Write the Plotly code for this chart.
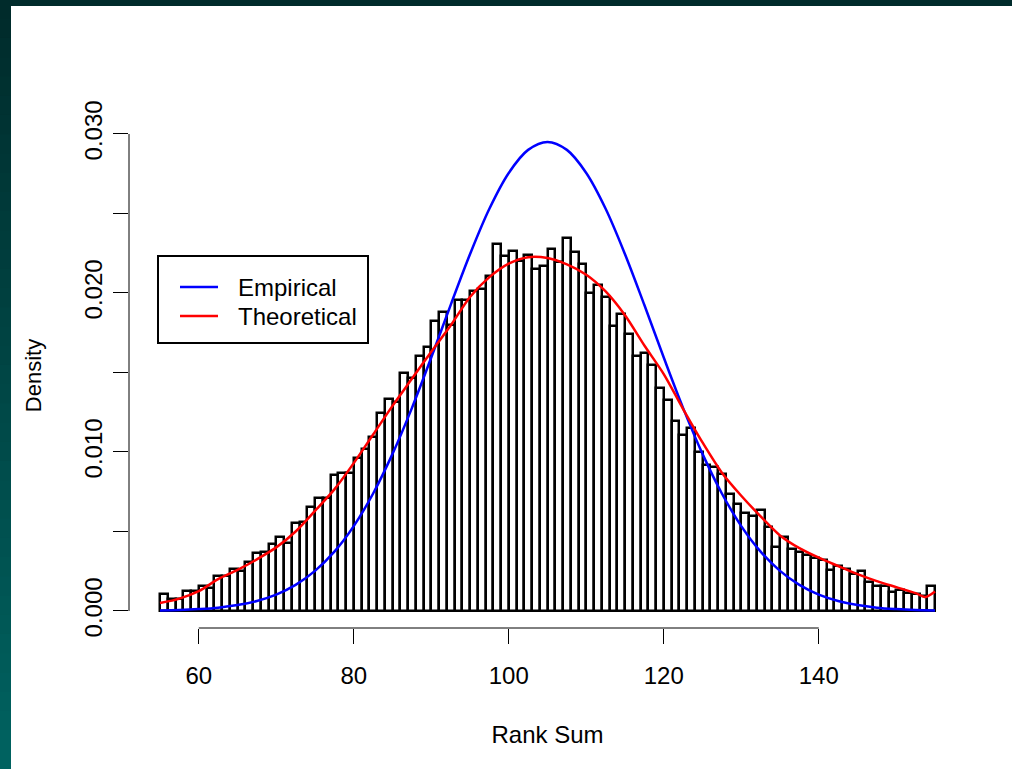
import plotly.graph_objects as go

# ---------------- data ----------------
bin_left = list(range(55, 155))          # histogram bins of width 1
density = [
    0.00110, 0.00075, 0.00075, 0.00126, 0.00126, 0.00157, 0.00143, 0.00220, 0.00220, 0.00262,
    0.00254, 0.00310, 0.00363, 0.00369, 0.00420, 0.00463, 0.00426, 0.00556, 0.00562, 0.00656,
    0.00709, 0.00709, 0.00855, 0.00870, 0.00870, 0.00960, 0.01017, 0.01096, 0.01247, 0.01331,
    0.01317, 0.01499, 0.01463, 0.01604, 0.01662, 0.01826, 0.01883, 0.01799, 0.01956, 0.01956,
    0.02010, 0.02025, 0.02105, 0.02310, 0.02232, 0.02261, 0.02198, 0.02238, 0.02148, 0.02167,
    0.02277, 0.02197, 0.02344, 0.02260, 0.02180, 0.02002, 0.02050, 0.01977, 0.01794, 0.01868,
    0.01744, 0.01604, 0.01625, 0.01547, 0.01401, 0.01327, 0.01197, 0.01107, 0.01149, 0.01002,
    0.00918, 0.00908, 0.00864, 0.00738, 0.00675, 0.00616, 0.00597, 0.00633, 0.00530, 0.00404,
    0.00463, 0.00391, 0.00370, 0.00352, 0.00332, 0.00321, 0.00258, 0.00283, 0.00263, 0.00234,
    0.00250, 0.00181, 0.00160, 0.00160, 0.00118, 0.00134, 0.00111, 0.00104, 0.00095, 0.00157,
]

emp_x = [55, 57.5, 60, 62.5, 65, 67.5, 70, 72.5, 75, 77.5, 80, 82.5, 85, 87.5, 90, 92.5, 95,
         97.5, 100, 102.5, 105, 107.5, 110, 112.5, 115, 117.5, 120, 122.5, 125, 127.5, 130,
         132.5, 135, 137.5, 140, 142.5, 145, 147.5, 150, 152.5, 155]
emp_y = [0.00003, 0.00006, 0.00012, 0.00021, 0.00037, 0.00063, 0.00103, 0.00164, 0.00252,
         0.00373, 0.00534, 0.00739, 0.00988, 0.01276, 0.01594, 0.01924, 0.02244, 0.02530,
         0.02755, 0.02900, 0.02950, 0.02900, 0.02755, 0.02530, 0.02244, 0.01924, 0.01594,
         0.01276, 0.00988, 0.00739, 0.00534, 0.00373, 0.00252, 0.00164, 0.00103, 0.00063,
         0.00037, 0.00021, 0.00012, 0.00006, 0.00003]

theo_x = [55, 57.5, 60, 62.5, 65, 67.5, 70, 72.5, 75, 77.5, 80, 82.5, 85, 87.5, 90, 92.5, 95,
          97.5, 100, 102.5, 105, 107.5, 110, 112.5, 115, 117.5, 120, 122.5, 125, 127.5, 130,
          132.5, 135, 137.5, 140, 142.5, 145, 147.5, 150, 152.5, 153.8, 155]
theo_y = [0.00050, 0.00078, 0.00125, 0.00200, 0.00258, 0.00325, 0.00400, 0.00500, 0.00630,
          0.00765, 0.00930, 0.01110, 0.01290, 0.01460, 0.01630, 0.01795, 0.01975, 0.02100,
          0.02185, 0.02225, 0.02220, 0.02180, 0.02115, 0.02010, 0.01860, 0.01670, 0.01490,
          0.01270, 0.01060, 0.00870, 0.00725, 0.00595, 0.00475, 0.00395, 0.00335, 0.00283,
          0.00232, 0.00188, 0.00150, 0.00112, 0.00088, 0.00122]

x_ticks = [60, 80, 100, 120, 140]
y_ticks = [0.000, 0.005, 0.010, 0.015, 0.020, 0.025, 0.030]
y_tick_text = ["0.000", "", "0.010", "", "0.020", "", "0.030"]

legend_names = ["Empirical", "Theoretical"]
legend_colors = ["#0000ff", "#ff0000"]

# ---------------- layout constants ----------------
W, H = 1012, 769
ML, MR, MT, MB = 129, 46, 123, 141
PW, PH = W - ML - MR, H - MT - MB
FONT = "Liberation Sans, Arial, Helvetica, sans-serif"
FS = 24


def px_to_paper_x(px):
    return (px - ML) / PW


def py_to_paper_y(py):
    return (H - MB - py) / PH


fig = go.Figure()

fig.add_trace(go.Bar(
    x=[b + 0.5 for b in bin_left], y=density, width=1,
    marker=dict(color="white", line=dict(color="black", width=2.5)),
    showlegend=False, hoverinfo="skip",
))
fig.add_trace(go.Scatter(
    x=emp_x, y=emp_y, mode="lines", name=legend_names[0], showlegend=False,
    line=dict(color=legend_colors[0], width=2.5, shape="spline", smoothing=1.0),
))
fig.add_trace(go.Scatter(
    x=theo_x, y=theo_y, mode="lines", name=legend_names[1], showlegend=False,
    line=dict(color=legend_colors[1], width=2.5, shape="spline", smoothing=0.8),
))

shapes = []
annotations = []
# R-style axis lines spanning only the tick range
shapes.append(dict(type="line", xref="x", yref="paper", x0=x_ticks[0], x1=x_ticks[-1],
                   y0=0, y1=0, line=dict(color="black", width=1)))
shapes.append(dict(type="line", xref="paper", yref="y", x0=0, x1=0,
                   y0=y_ticks[0], y1=y_ticks[-1], line=dict(color="black", width=1)))

# R-style legend box
LB_L, LB_R, LB_T, LB_B = 158, 368, 256, 343
shapes.append(dict(type="rect", xref="paper", yref="paper",
                   x0=px_to_paper_x(LB_L), x1=px_to_paper_x(LB_R),
                   y0=py_to_paper_y(LB_B), y1=py_to_paper_y(LB_T),
                   fillcolor="white", line=dict(color="black", width=2)))
for i, (name, col) in enumerate(zip(legend_names, legend_colors)):
    yy = 287 + 29 * i
    shapes.append(dict(type="line", xref="paper", yref="paper",
                       x0=px_to_paper_x(180), x1=px_to_paper_x(218),
                       y0=py_to_paper_y(yy), y1=py_to_paper_y(yy),
                       line=dict(color=col, width=2.5)))
    annotations.append(dict(text=name, xref="paper", yref="paper", showarrow=False,
                            x=px_to_paper_x(236), y=py_to_paper_y(yy),
                            xanchor="left", yanchor="middle",
                            font=dict(family=FONT, size=FS, color="black")))

# dark teal frame (top strip and left gradient strip)
shapes.append(dict(type="rect", xref="paper", yref="paper", layer="above",
                   x0=px_to_paper_x(0), x1=px_to_paper_x(W),
                   y0=py_to_paper_y(6), y1=py_to_paper_y(0),
                   fillcolor="rgb(0,43,43)", line=dict(width=0)))
nb = 40
c0, c1 = (0, 43, 43), (0, 98, 96)
for i in range(nb):
    t = i / (nb - 1)
    col = "rgb(%d,%d,%d)" % tuple(round(a + (b - a) * t) for a, b in zip(c0, c1))
    shapes.append(dict(type="rect", xref="paper", yref="paper", layer="above",
                       x0=px_to_paper_x(0), x1=px_to_paper_x(11),
                       y0=py_to_paper_y(H * (i + 1) / nb + 0.5), y1=py_to_paper_y(H * i / nb - 0.5),
                       fillcolor=col, line=dict(width=0)))

fig.update_layout(
    width=W, height=H,
    margin=dict(l=ML, r=MR, t=MT, b=MB, autoexpand=False),
    paper_bgcolor="white", plot_bgcolor="white",
    font=dict(family=FONT, color="black", size=FS),
    shapes=shapes, annotations=annotations,
    bargap=0, showlegend=False,
    xaxis=dict(
        range=[51, 159], showgrid=False, zeroline=False, showline=False,
        tickmode="array", tickvals=x_ticks, ticktext=[str(v) for v in x_ticks],
        ticks="outside", ticklen=15, tickwidth=1, tickcolor="black",
        tickfont=dict(family=FONT, size=FS), ticklabelstandoff=11,
        title=dict(text="Rank Sum", font=dict(family=FONT, size=FS), standoff=38),
    ),
    yaxis=dict(
        range=[-0.00107, 0.03069], showgrid=False, zeroline=False, showline=False,
        tickmode="array", tickvals=y_ticks, ticktext=y_tick_text,
        ticks="outside", ticklen=15, tickwidth=1, tickcolor="black",
        tickangle=-90, tickfont=dict(family=FONT, size=FS), ticklabelstandoff=1,
        title=dict(text="Density", font=dict(family=FONT, size=22), standoff=32),
    ),
)

fig.write_html(
    "out.html",
    config={"displayModeBar": False},
    post_script="document.body.style.margin='0px';document.body.style.overflow='hidden';",
)
